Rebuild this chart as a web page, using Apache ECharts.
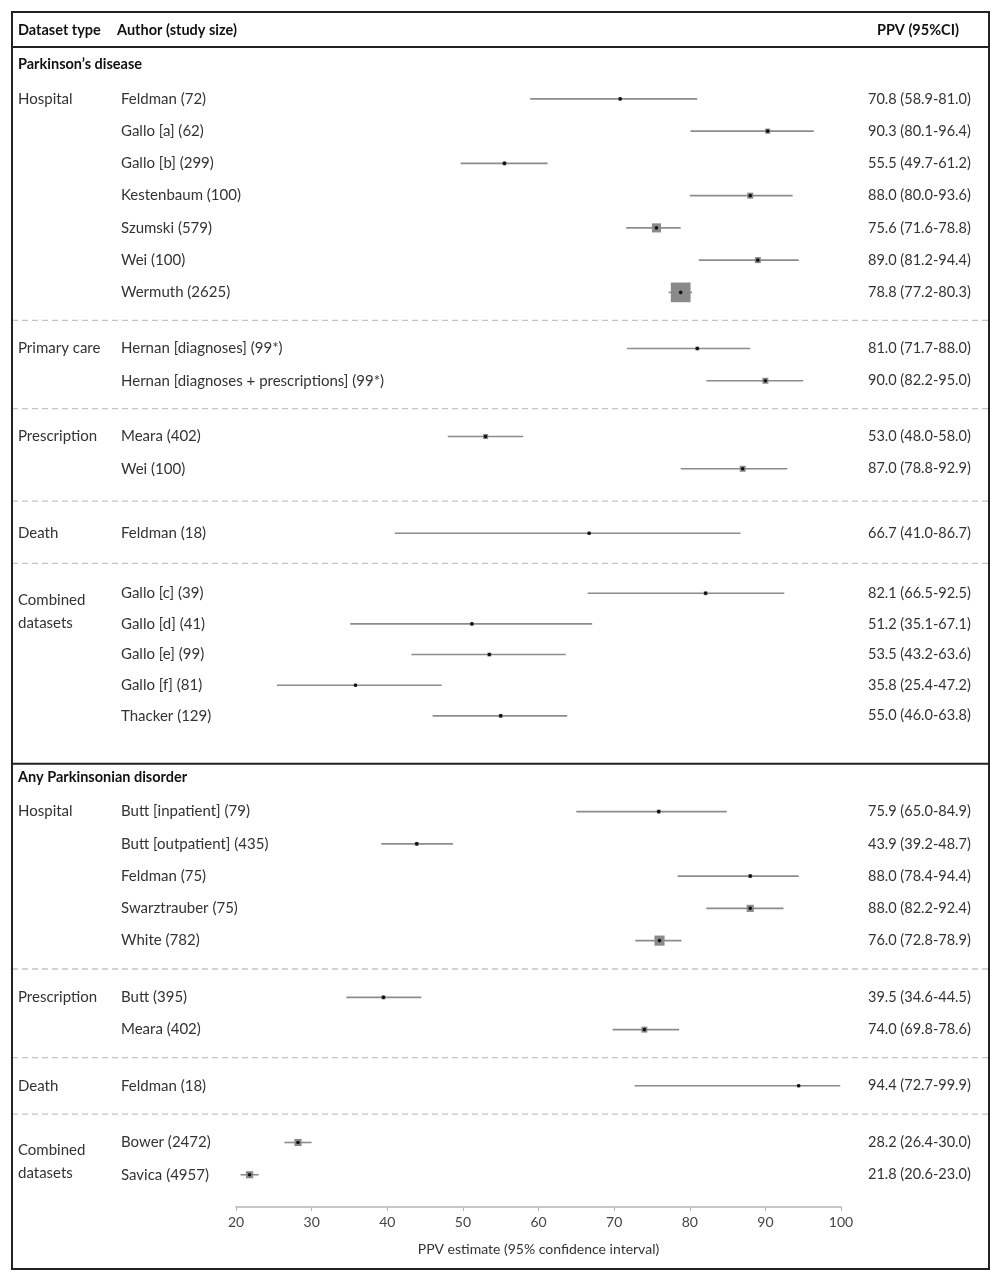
<!DOCTYPE html>
<html>
<head>
<meta charset="utf-8">
<script src="https://cdn.jsdelivr.net/npm/echarts@6/dist/echarts.min.js"></script>
<style>
  html, body { margin: 0; padding: 0; background: #fff; }
  #myChart { width: 1004px; height: 1280px; }
</style>
</head>
<body>
<div id="myChart"></div>
<script>
// ---- data ----
var sections = ['Parkinson\u2019s disease', 'Any Parkinsonian disorder'];
var datasetTypes = ['Hospital', 'Primary care', 'Prescription', 'Death', 'Combined datasets',
                    'Hospital', 'Prescription', 'Death', 'Combined datasets'];
var groupSection = [0, 0, 0, 0, 0, 1, 1, 1, 1];
var groupSizes = [7, 2, 2, 1, 5, 5, 2, 1, 2];

var authors = [
  'Feldman (72)', 'Gallo [a] (62)', 'Gallo [b] (299)', 'Kestenbaum (100)', 'Szumski (579)', 'Wei (100)', 'Wermuth (2625)',
  'Hernan [diagnoses] (99*)', 'Hernan [diagnoses + prescriptions] (99*)',
  'Meara (402)', 'Wei (100)',
  'Feldman (18)',
  'Gallo [c] (39)', 'Gallo [d] (41)', 'Gallo [e] (99)', 'Gallo [f] (81)', 'Thacker (129)',
  'Butt [inpatient] (79)', 'Butt [outpatient] (435)', 'Feldman (75)', 'Swarztrauber (75)', 'White (782)',
  'Butt (395)', 'Meara (402)',
  'Feldman (18)',
  'Bower (2472)', 'Savica (4957)'
];
var ppv   = [70.8, 90.3, 55.5, 88.0, 75.6, 89.0, 78.8, 81.0, 90.0, 53.0, 87.0, 66.7, 82.1, 51.2, 53.5, 35.8, 55.0,
             75.9, 43.9, 88.0, 88.0, 76.0, 39.5, 74.0, 94.4, 28.2, 21.8];
var lower = [58.9, 80.1, 49.7, 80.0, 71.6, 81.2, 77.2, 71.7, 82.2, 48.0, 78.8, 41.0, 66.5, 35.1, 43.2, 25.4, 46.0,
             65.0, 39.2, 78.4, 82.2, 72.8, 34.6, 69.8, 72.7, 26.4, 20.6];
var upper = [81.0, 96.4, 61.2, 93.6, 78.8, 94.4, 80.3, 88.0, 95.0, 58.0, 92.9, 86.7, 92.5, 67.1, 63.6, 47.2, 63.8,
             84.9, 48.7, 94.4, 92.4, 78.9, 44.5, 78.6, 99.9, 30.0, 23.0];
// relative study weight (drives box area)
var weights = [1, 2.5, 1.5, 3.5, 8, 3.5, 38, 1.5, 3.5, 2.5, 3.5, 1, 1.5, 1, 1.5, 1, 1.5,
               1.5, 1.5, 1.5, 5, 10, 1.5, 3.5, 1, 5, 5];
var xTicks = [20, 30, 40, 50, 60, 70, 80, 90, 100];

// ---- layout ----
var gapBefore = [0, 1.74, 1.73, 2.0, 1.86, 2.97, 1.76, 1.74, 1.76];
var rowStep = [1, 1, 1, 1, 0.95, 1, 1, 1, 1];
var FONT = 'Lato, "Open Sans", sans-serif';
var TXT = '#333';
var X_TYPE = 18, X_AUTHOR = 121, X_PPV = 868, BORDER_L = 12, BORDER_R = 989;

var rowY = [], groupFirstY = [], groupLastY = [];
var cur = 0;
for (var g = 0; g < groupSizes.length; g++) {
  if (g > 0) cur += gapBefore[g];
  for (var k = 0; k < groupSizes[g]; k++) {
    if (k > 0) cur += rowStep[g];
    rowY.push(cur);
    if (k === 0) groupFirstY.push(cur);
  }
  groupLastY.push(cur);
}
var yMax = cur + 1.0;

var rowData = authors.map(function (a, i) {
  return [ppv[i], rowY[i], lower[i], upper[i], weights[i]];
});

// dividers between groups
var dividerData = [];
for (var g2 = 1; g2 < groupSizes.length; g2++) {
  var solid = groupSection[g2] !== groupSection[g2 - 1];
  dividerData.push([20, (groupLastY[g2 - 1] + groupFirstY[g2]) / 2, solid ? 1 : 0]);
}
// section headers
var sectionData = sections.map(function (s, si) {
  var gi = groupSection.indexOf(si);
  return [20, groupFirstY[gi] - 1.07, si];
});
// dataset type labels
var typeData = datasetTypes.map(function (t, gi) {
  var y = t === 'Combined datasets' ? groupFirstY[gi] + 0.6 * rowStep[gi] : groupFirstY[gi];
  return [20, y, gi];
});

var myChart = echarts.init(document.getElementById('myChart'));
var option = {
  animation: false,
  backgroundColor: '#fff',
  textStyle: { fontFamily: FONT },
  grid: { left: 236, right: 163, top: 50.5, bottom: 73 },
  xAxis: {
    type: 'value', min: 20, max: 100, interval: 10,
    splitLine: { show: false },
    axisLine: { show: true, onZero: false, lineStyle: { color: '#b5b5b5', width: 1.5 } },
    axisTick: { show: true, length: 4, lineStyle: { color: '#b5b5b5' } },
    axisLabel: { color: '#444', fontSize: 14, margin: 8, fontFamily: FONT, formatter: function (v) { return xTicks.indexOf(v) >= 0 ? v : ''; } },
    name: 'PPV estimate (95% confidence interval)',
    nameLocation: 'middle', nameGap: 35,
    nameTextStyle: { color: '#333', fontSize: 14, fontFamily: FONT }
  },
  yAxis: { type: 'value', inverse: true, min: -1.5, max: yMax, show: false },
  graphic: [
    { type: 'rect', shape: { x: BORDER_L, y: 12, width: BORDER_R - BORDER_L, height: 1257 },
      style: { fill: null, stroke: '#222', lineWidth: 2 }, z: 100 },
    { type: 'line', shape: { x1: BORDER_L, y1: 47, x2: BORDER_R, y2: 47 }, style: { stroke: '#222', lineWidth: 2 } },
    { type: 'text', x: X_TYPE, y: 30, style: { text: 'Dataset type', fontFamily: FONT, fontSize: 14.5, fontWeight: 'bold', fill: '#111', verticalAlign: 'middle' } },
    { type: 'text', x: X_AUTHOR - 4, y: 30, style: { text: 'Author (study size)', fontFamily: FONT, fontSize: 14.5, fontWeight: 'bold', fill: '#111', verticalAlign: 'middle' } },
    { type: 'text', x: 877, y: 30, style: { text: 'PPV (95%CI)', fontFamily: FONT, fontSize: 14.5, fontWeight: 'bold', fill: '#111', verticalAlign: 'middle' } }
  ],
  series: [
    {
      type: 'custom', clip: false, data: dividerData, encode: { x: 0, y: 1 },
      renderItem: function (params, api) {
        var p = api.coord([20, api.value(1)]);
        var solid = api.value(2) === 1;
        return { type: 'line', shape: { x1: BORDER_L, y1: p[1], x2: BORDER_R, y2: p[1] },
          style: solid ? { stroke: '#222', lineWidth: 2 } : { stroke: '#c4c4c4', lineWidth: 1.3, lineDash: [6, 4] } };
      }
    },
    {
      type: 'custom', clip: false, data: sectionData, encode: { x: 0, y: 1 },
      renderItem: function (params, api) {
        var p = api.coord([20, api.value(1)]);
        return { type: 'text', x: X_TYPE, y: p[1],
          style: { text: sections[api.value(2)], fontFamily: FONT, fontSize: 14.5, fontWeight: 'bold', fill: '#111', verticalAlign: 'middle' } };
      }
    },
    {
      type: 'custom', clip: false, data: typeData, encode: { x: 0, y: 1 },
      renderItem: function (params, api) {
        var p = api.coord([20, api.value(1)]);
        var t = datasetTypes[api.value(2)].replace('Combined datasets', 'Combined\ndatasets');
        return { type: 'text', x: X_TYPE, y: p[1],
          style: { text: t, fontFamily: FONT, fontSize: 15, lineHeight: 23, fill: TXT, verticalAlign: 'middle' } };
      }
    },
    {
      type: 'custom', clip: false, data: rowData, encode: { x: 0, y: 1 },
      renderItem: function (params, api) {
        var i = params.dataIndex;
        var c = api.coord([api.value(0), api.value(1)]);
        var a = api.coord([api.value(2), api.value(1)]);
        var b = api.coord([api.value(3), api.value(1)]);
        var box = 3.2 * Math.sqrt(api.value(4));
        var label = ppv[i].toFixed(1) + ' (' + lower[i].toFixed(1) + '-' + upper[i].toFixed(1) + ')';
        return {
          type: 'group',
          children: [
            { type: 'line', shape: { x1: a[0], y1: c[1], x2: b[0], y2: c[1] }, style: { stroke: '#8c8c8c', lineWidth: 1.6 } },
            { type: 'rect', shape: { x: c[0] - box / 2, y: c[1] - box / 2, width: box, height: box }, style: { fill: '#8a8a8a' } },
            { type: 'circle', shape: { cx: c[0], cy: c[1], r: 1.8 }, style: { fill: '#111' } },
            { type: 'text', x: X_AUTHOR, y: c[1], style: { text: authors[i], fontFamily: FONT, fontSize: 15, fill: TXT, verticalAlign: 'middle' } },
            { type: 'text', x: X_PPV, y: c[1], style: { text: label, fontFamily: FONT, fontSize: 14.5, fill: TXT, verticalAlign: 'middle' } }
          ]
        };
      }
    }
  ]
};
myChart.setOption(option);
</script>
</body>
</html>
